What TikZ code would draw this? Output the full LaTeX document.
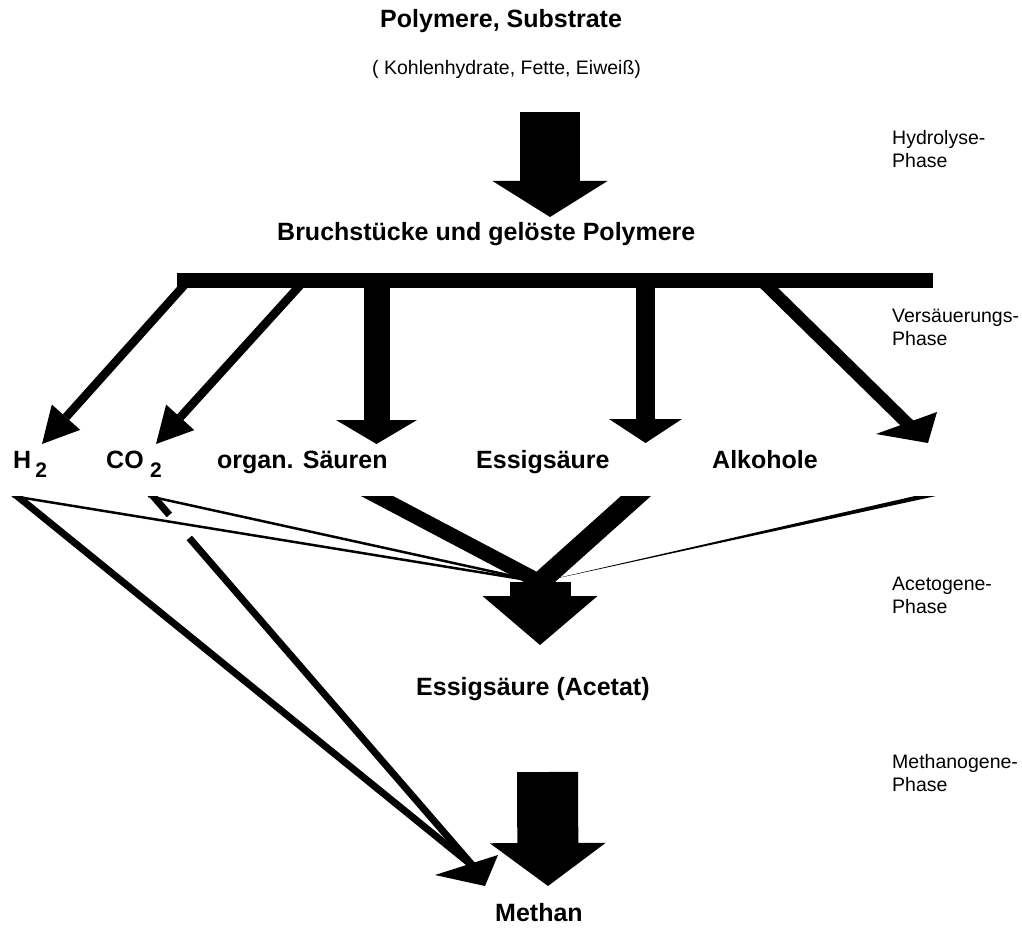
\documentclass[tikz,border=0pt]{standalone}
\usepackage{fontspec}
\setmainfont{Liberation Sans}
\usetikzlibrary{arrows.meta,calc}
\tikzset{
  lab/.style={font=\bfseries\fontsize{25}{30}\selectfont,inner sep=0pt,anchor=base west},
  small/.style={font=\fontsize{19.5}{23}\selectfont,inner sep=0pt,anchor=base west},
}
\newcommand{\idx}[1]{\raisebox{-9pt}{\fontsize{21}{21}\selectfont #1}}
\begin{document}
\begin{tikzpicture}[x=1pt,y=-1pt]
     \useasboundingbox (0,0) rectangle (1022,928);
     \node[lab] (poly) at (380,28) {Polymere, Substrate};
     \node[small] (subs) at (372,75) {( Kohlenhydrate, Fette, Eiweiß)};
     \node[lab] (bruch) at (277,240) {Bruchstücke und gelöste Polymere};
     \node[lab] (h2) at (13,468) {H\hspace{4pt}\idx{2}};
     \node[lab] (co2) at (106,468) {CO\hspace{6.5pt}\idx{2}};
     \node[lab] (org) at (217,468) {organ. Säuren};
     \node[lab] (essig) at (476,468) {Essigsäure};
     \node[lab] (alk) at (712,468) {Alkohole};
     \node[lab] (acetat) at (416,695) {Essigsäure (Acetat)};
     \node[lab] (methan) at (495,921) {Methan};
     \foreach \id/\name/\y in {hyd/Hydrolyse/145, ver/Versäuerungs/322, ace/Acetogene/590, met/Methanogene/768} {
       \node[small] (\id) at (892,\y) {\name-};
       \node[small] (\id2) at (892,\y+23) {Phase};
     }
     \coordinate (hydtop) at (550,112);
     \coordinate (hydtip) at (550,217);
     \coordinate (barL) at (177,280.5);
     \coordinate (barR) at (933,280.5);
     \coordinate (h2top) at (188,281);
     \coordinate (h2tip) at (42,444);
     \coordinate (co2top) at (304,281);
     \coordinate (co2tip) at (156,444);
     \coordinate (orgtop) at (376.5,281);
     \coordinate (orgtip) at (376.5,444);
     \coordinate (essigtop) at (645.5,281);
     \coordinate (essigtip) at (645.5,443);
     \coordinate (alktop) at (762,281);
     \coordinate (alkend) at (912,428);
     \coordinate (alkw1) at (876,434);
     \coordinate (alkw2) at (937,412);
     \coordinate (alktip) at (928,443);
     \coordinate (h2src) at (12,496);
     \coordinate (co2src) at (148,496);
     \coordinate (orgsrc) at (377,496);
     \coordinate (essigsrc) at (636,496);
     \coordinate (alksrc) at (915,496);
     \coordinate (aconv) at (540,582);
     \coordinate (acetip) at (540,645);
     \coordinate (h2m) at (17,496);
     \coordinate (co2m) at (153,496);
     \coordinate (mconv) at (474,867);
     \coordinate (mw1) at (435,875);
     \coordinate (mw2) at (498,855);
     \coordinate (mtip) at (485,886);
     \coordinate (mettop) at (547.5,772);
     \coordinate (mettip) at (548,886);
     \draw[line width=60pt,-{Triangle[length=36pt,width=115pt,line width=0pt]}] (hydtop) -- (hydtip);
     \draw[line width=8.5pt,-{Triangle[length=36pt,width=38pt,line width=0pt]}] (h2top) -- (h2tip);
     \draw[line width=8.5pt,-{Triangle[length=36pt,width=38pt,line width=0pt]}] (co2top) -- (co2tip);
     \draw[line width=26pt,-{Triangle[length=24pt,width=81pt,line width=0pt]}] (orgtop) -- (orgtip);
     \draw[line width=19pt,-{Triangle[length=24pt,width=73pt,line width=0pt]}] (essigtop) -- (essigtip);
     \draw[line width=12.5pt] (alktop) -- (alkend);
     \fill (alkw1) -- (alkw2) -- (alktip) -- cycle;
     \draw[line width=15pt] (barL) -- (barR);
     \begin{scope}
       \clip (0,496) rectangle (1022,928);
       \draw[line width=2.5pt] (h2src) -- (aconv);
       \draw[line width=2.5pt] (co2src) -- (aconv);
       \draw[line width=15pt] ($(orgsrc)!-20pt!(aconv)$) -- (aconv);
       \draw[line width=20pt] ($(essigsrc)!-20pt!(aconv)$) -- (aconv);
       \fill (alksrc) -- ++(21,0) -- (aconv) -- cycle;
       \draw[line width=7pt] ($(h2m)!-20pt!(mconv)$) -- (mconv);
       \draw[line width=7pt] ($(co2m)!-20pt!(mconv)$) -- ($(co2m)!0.051!(mconv)$);
       \draw[line width=7pt] ($(co2m)!0.113!(mconv)$) -- (mconv);
     \end{scope}
     \draw[line width=61pt,-{Triangle[length=49pt,width=115pt,line width=0pt]}] (aconv) -- (acetip);
     \fill (mw1) -- (mw2) -- (mtip) -- cycle;
     \draw[line width=61pt,-{Triangle[length=43pt,width=116pt,line width=0pt]}] (mettop) -- (mettip);
\end{tikzpicture}
\end{document}
